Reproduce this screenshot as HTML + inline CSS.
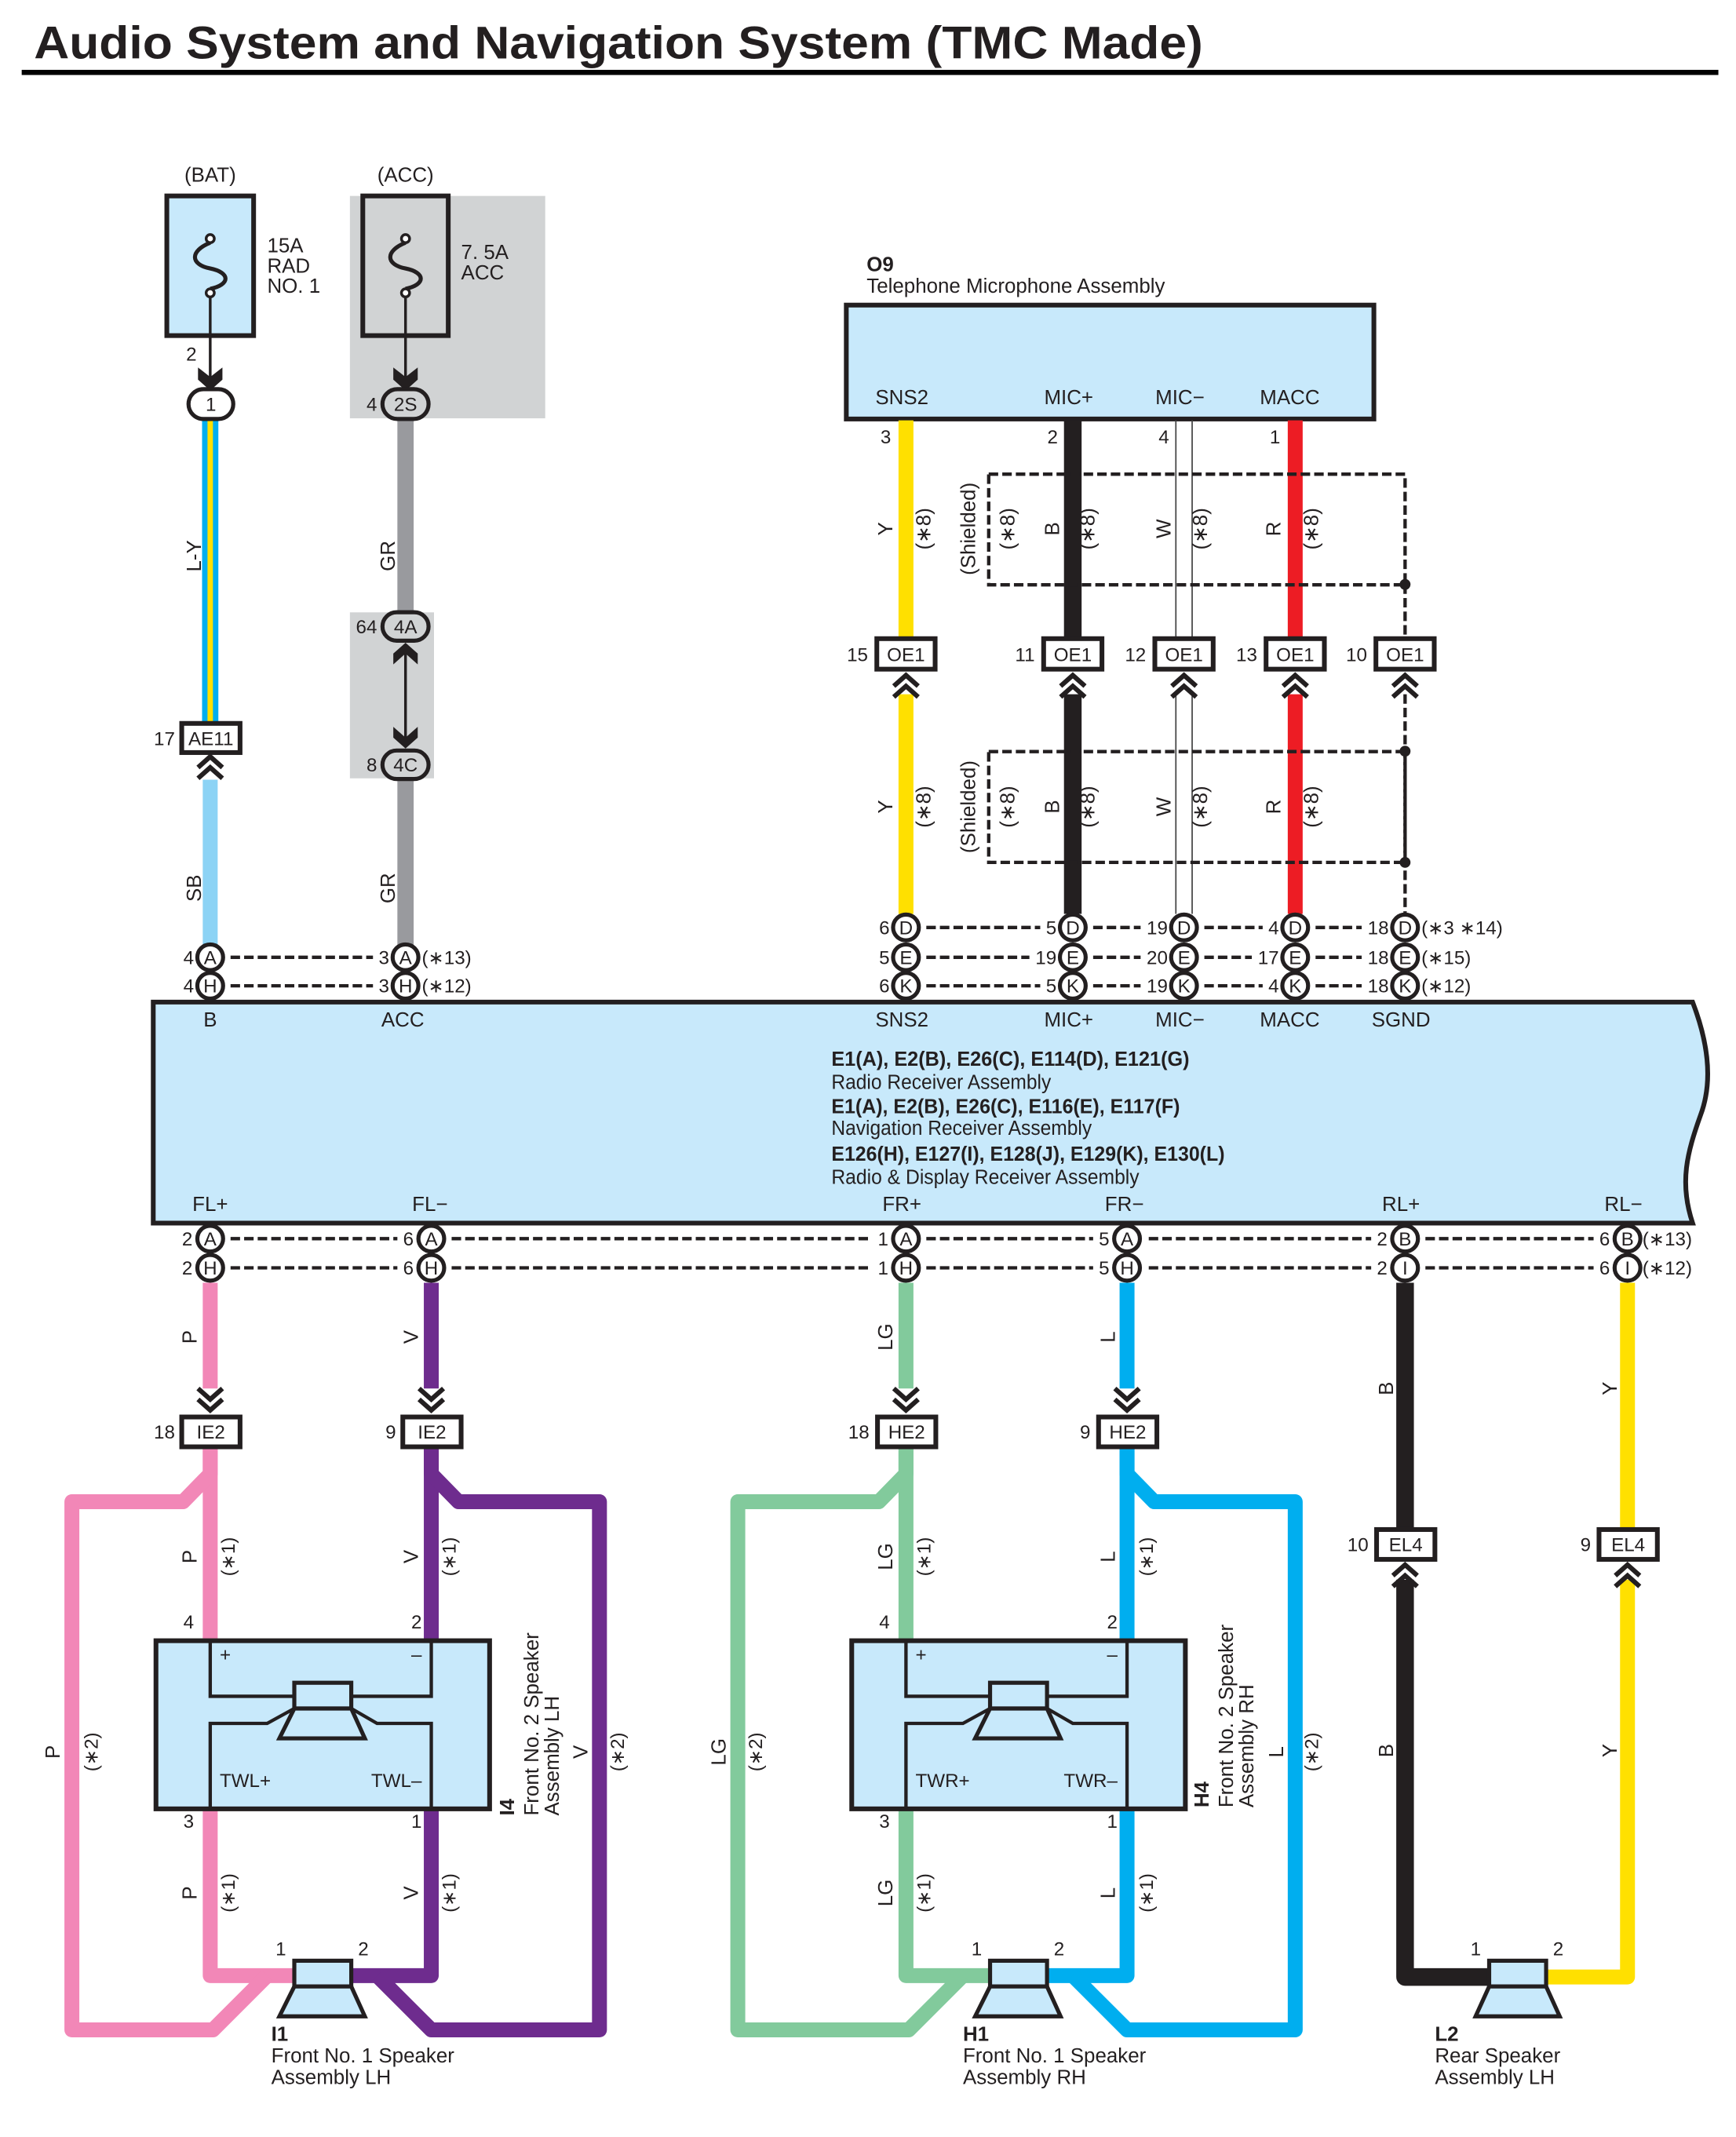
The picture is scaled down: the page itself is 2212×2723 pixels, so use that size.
<!DOCTYPE html>
<html><head><meta charset="utf-8"><style>
html,body{margin:0;padding:0;background:#fff}
svg{display:block}
text{font-family:"Liberation Sans Narrow","Liberation Sans",sans-serif;font-size:15px;fill:#231f20}
.n{font-size:14px}
.b{font-weight:bold}
.w{fill:none;stroke-linejoin:round}
.d{fill:none;stroke:#231f20;stroke-width:2.5;stroke-dasharray:7 3}
.c{fill:#fff;stroke:#231f20;stroke-width:3}
.k{fill:none;stroke:#231f20;stroke-width:3.5;stroke-linejoin:miter}
</style></head><body>
<svg width="2212" height="2723" viewBox="0 0 1280 1576" preserveAspectRatio="none" xmlns="http://www.w3.org/2000/svg">
<text x="25" y="43" class="b" style="font-size:34px" textLength="862" lengthAdjust="spacingAndGlyphs">Audio System and Navigation System (TMC Made)</text>
<rect x="16" y="51.5" width="1251" height="3.8" fill="#000"/>

<!-- BAT fuse -->
<text x="155" y="134" text-anchor="middle">(BAT)</text>
<rect x="123" y="144.5" width="64" height="103" fill="#c8e9fb" stroke="#231f20" stroke-width="3.5"/>
<path d="M155,179 C140,185 140,195 155,198 C170,201 170,210 155,213" fill="none" stroke="#231f20" stroke-width="3"/>
<circle cx="155" cy="176" r="3" fill="#fff" stroke="#231f20" stroke-width="2"/>
<circle cx="155" cy="216" r="3" fill="#fff" stroke="#231f20" stroke-width="2"/>
<line x1="155" y1="219" x2="155" y2="280" stroke="#231f20" stroke-width="2"/>
<polygon points="146,271 155,278 164,271 164,280 155,288 146,280" fill="#231f20"/>
<text x="145" y="266" class="n" text-anchor="end">2</text>
<text x="197" y="186">15A</text><text x="197" y="201">RAD</text><text x="197" y="216">NO. 1</text>

<!-- ACC fuse -->
<text x="299" y="134" text-anchor="middle">(ACC)</text>
<rect x="258" y="144.5" width="144" height="164" fill="#d1d3d4"/>
<rect x="267.5" y="144.5" width="63" height="103" fill="#d1d3d4" stroke="#231f20" stroke-width="3.5"/>
<path d="M299,179 C284,185 284,195 299,198 C314,201 314,210 299,213" fill="none" stroke="#231f20" stroke-width="3"/>
<circle cx="299" cy="176" r="3" fill="#fff" stroke="#231f20" stroke-width="2"/>
<circle cx="299" cy="216" r="3" fill="#fff" stroke="#231f20" stroke-width="2"/>
<line x1="299" y1="219" x2="299" y2="280" stroke="#231f20" stroke-width="2"/>
<polygon points="290,271 299,278 308,271 308,280 299,288 290,280" fill="#231f20"/>
<text x="340" y="191">7. 5A</text><text x="340" y="206">ACC</text>
<rect x="258" y="451.6" width="62" height="122.4" fill="#d1d3d4"/>

<!-- left wires -->
<line x1="155" y1="309" x2="155" y2="533" stroke="#00aeef" stroke-width="12"/>
<line x1="155" y1="309" x2="155" y2="533" stroke="#ffe000" stroke-width="4"/>
<line x1="155" y1="575" x2="155" y2="697" stroke="#8cd3f5" stroke-width="11"/>
<line x1="299" y1="309" x2="299" y2="452" stroke="#999a9e" stroke-width="12"/>
<line x1="299" y1="575" x2="299" y2="697" stroke="#999a9e" stroke-width="12"/>
<rect x="139" y="287" width="33" height="22" rx="11" class="c"/><text x="155.5" y="303" class="n" text-anchor="middle">1</text>
<rect x="282" y="287" width="34" height="22" rx="11" class="c" style="fill:#d1d3d4"/><text x="299" y="303" class="n" text-anchor="middle">2S</text>
<text x="278" y="303" class="n" text-anchor="end">4</text>
<rect x="282" y="451.5" width="34" height="21" rx="10.5" class="c" style="fill:#d1d3d4"/><text x="299" y="467" class="n" text-anchor="middle">4A</text>
<text x="278" y="467" class="n" text-anchor="end">64</text>
<rect x="282" y="553.5" width="34" height="21" rx="10.5" class="c" style="fill:#d1d3d4"/><text x="299" y="569" class="n" text-anchor="middle">4C</text>
<text x="278" y="569" class="n" text-anchor="end">8</text>
<line x1="299" y1="480" x2="299" y2="546" stroke="#231f20" stroke-width="2"/>
<polygon points="290,490 299,482 308,490 308,482 299,474 290,482" fill="#231f20"/>
<polygon points="290,536 299,544 308,536 308,544 299,552 290,544" fill="#231f20"/>
<rect x="134" y="533.5" width="43" height="21.5" class="c" style="stroke-width:3.5"/><text x="155.5" y="549.5" class="n" text-anchor="middle">AE11</text>
<text x="129" y="549.5" class="n" text-anchor="end">17</text>
<path d="M146,566 L155,558 L164,566 M146,574 L155,566 L164,574" class="k"/>
<text transform="translate(148,410) rotate(-90)" text-anchor="middle">L-Y</text>
<text transform="translate(148,655) rotate(-90)" text-anchor="middle">SB</text>
<text transform="translate(291,410) rotate(-90)" text-anchor="middle">GR</text>
<text transform="translate(291,655) rotate(-90)" text-anchor="middle">GR</text>

<!-- O9 -->
<text x="639" y="200" class="b">O9</text>
<text x="639" y="216">Telephone Microphone Assembly</text>
<rect x="624" y="225" width="389" height="84" fill="#c8e9fb" stroke="#231f20" stroke-width="3.5"/>
<text x="665" y="298" text-anchor="middle">SNS2</text><text x="788" y="298" text-anchor="middle">MIC+</text>
<text x="870" y="298" text-anchor="middle">MIC−</text><text x="951" y="298" text-anchor="middle">MACC</text>
<text x="657" y="327" class="n" text-anchor="end">3</text><text x="780" y="327" class="n" text-anchor="end">2</text>
<text x="862" y="327" class="n" text-anchor="end">4</text><text x="944" y="327" class="n" text-anchor="end">1</text>

<!-- top wires -->
<g>
<line x1="668" y1="310" x2="668" y2="471" stroke="#ffe000" stroke-width="11"/>
<line x1="668" y1="512" x2="668" y2="674" stroke="#ffe000" stroke-width="11"/>
<line x1="791" y1="310" x2="791" y2="471" stroke="#231f20" stroke-width="13"/>
<line x1="791" y1="512" x2="791" y2="674" stroke="#231f20" stroke-width="13"/>
<line x1="955" y1="310" x2="955" y2="471" stroke="#ed1c24" stroke-width="11"/>
<line x1="955" y1="512" x2="955" y2="674" stroke="#ed1c24" stroke-width="11"/>
<path d="M867,310 V471 M879,310 V471 M867,512 V674 M879,512 V674" stroke="#444" stroke-width="1" fill="none"/>
</g>
<rect x="729" y="349.7" width="307" height="81.6" class="d"/>
<rect x="729" y="554.3" width="307" height="81.7" class="d"/>
<path d="M1036,431 V471 M1036,512 V674" class="d"/>
<circle cx="1036" cy="431" r="4" fill="#231f20"/><circle cx="1036" cy="554" r="4" fill="#231f20"/><circle cx="1036" cy="636" r="4" fill="#231f20"/>
<g>
<text transform="translate(658,390) rotate(-90)" text-anchor="middle">Y</text>
<text transform="translate(686,390) rotate(-90)" text-anchor="middle">(∗8)</text>
<text transform="translate(719,390) rotate(-90)" text-anchor="middle">(Shielded)</text>
<text transform="translate(748,390) rotate(-90)" text-anchor="middle">(∗8)</text>
<text transform="translate(781,390) rotate(-90)" text-anchor="middle">B</text>
<text transform="translate(807,390) rotate(-90)" text-anchor="middle">(∗8)</text>
<text transform="translate(863,390) rotate(-90)" text-anchor="middle">W</text>
<text transform="translate(890,390) rotate(-90)" text-anchor="middle">(∗8)</text>
<text transform="translate(944,390) rotate(-90)" text-anchor="middle">R</text>
<text transform="translate(972,390) rotate(-90)" text-anchor="middle">(∗8)</text>
<text transform="translate(658,595) rotate(-90)" text-anchor="middle">Y</text>
<text transform="translate(686,595) rotate(-90)" text-anchor="middle">(∗8)</text>
<text transform="translate(719,595) rotate(-90)" text-anchor="middle">(Shielded)</text>
<text transform="translate(748,595) rotate(-90)" text-anchor="middle">(∗8)</text>
<text transform="translate(781,595) rotate(-90)" text-anchor="middle">B</text>
<text transform="translate(807,595) rotate(-90)" text-anchor="middle">(∗8)</text>
<text transform="translate(863,595) rotate(-90)" text-anchor="middle">W</text>
<text transform="translate(890,595) rotate(-90)" text-anchor="middle">(∗8)</text>
<text transform="translate(944,595) rotate(-90)" text-anchor="middle">R</text>
<text transform="translate(972,595) rotate(-90)" text-anchor="middle">(∗8)</text>
</g>
<!-- OE1 connectors -->
<g>
<rect x="646.5" y="471" width="43" height="22.5" class="c" style="stroke-width:3.5"/><text x="668" y="487.5" class="n" text-anchor="middle">OE1</text><text x="640" y="487.5" class="n" text-anchor="end">15</text>
<rect x="769.5" y="471" width="43" height="22.5" class="c" style="stroke-width:3.5"/><text x="791" y="487.5" class="n" text-anchor="middle">OE1</text><text x="763" y="487.5" class="n" text-anchor="end">11</text>
<rect x="851.5" y="471" width="43" height="22.5" class="c" style="stroke-width:3.5"/><text x="873" y="487.5" class="n" text-anchor="middle">OE1</text><text x="845" y="487.5" class="n" text-anchor="end">12</text>
<rect x="933.5" y="471" width="43" height="22.5" class="c" style="stroke-width:3.5"/><text x="955" y="487.5" class="n" text-anchor="middle">OE1</text><text x="927" y="487.5" class="n" text-anchor="end">13</text>
<rect x="1014.5" y="471" width="43" height="22.5" class="c" style="stroke-width:3.5"/><text x="1036" y="487.5" class="n" text-anchor="middle">OE1</text><text x="1008" y="487.5" class="n" text-anchor="end">10</text>
<path d="M659,506 L668,498 L677,506 M659,514 L668,506 L677,514" class="k"/>
<path d="M782,506 L791,498 L800,506 M782,514 L791,506 L800,514" class="k"/>
<path d="M864,506 L873,498 L882,506 M864,514 L873,506 L882,514" class="k"/>
<path d="M946,506 L955,498 L964,506 M946,514 L955,506 L964,514" class="k"/>
<path d="M1027,506 L1036,498 L1045,506 M1027,514 L1036,506 L1045,514" class="k"/>
</g>

<!-- main unit -->
<path d="M113,739 H1248 C1258,765 1264,795 1254,822 C1244,850 1238,872 1248,902 H113 Z" fill="#c8e9fb" stroke="#231f20" stroke-width="3.5"/>
<g text-anchor="middle">
<text x="155" y="757">B</text><text x="297" y="757">ACC</text><text x="665" y="757">SNS2</text><text x="788" y="757">MIC+</text>
<text x="870" y="757">MIC−</text><text x="951" y="757">MACC</text><text x="1033" y="757">SGND</text>
<text x="155" y="893">FL+</text><text x="317" y="893">FL−</text><text x="665" y="893">FR+</text><text x="829" y="893">FR−</text>
<text x="1033" y="893">RL+</text><text x="1197" y="893">RL−</text>
</g>
<text x="613" y="786" class="b" textLength="264" lengthAdjust="spacingAndGlyphs">E1(A), E2(B), E26(C), E114(D), E121(G)</text>
<text x="613" y="803" textLength="162" lengthAdjust="spacingAndGlyphs">Radio Receiver Assembly</text>
<text x="613" y="821" class="b" textLength="257" lengthAdjust="spacingAndGlyphs">E1(A), E2(B), E26(C), E116(E), E117(F)</text>
<text x="613" y="837" textLength="192" lengthAdjust="spacingAndGlyphs">Navigation Receiver Assembly</text>
<text x="613" y="856" class="b" textLength="290" lengthAdjust="spacingAndGlyphs">E126(H), E127(I), E128(J), E129(K), E130(L)</text>
<text x="613" y="873" textLength="227" lengthAdjust="spacingAndGlyphs">Radio &amp; Display Receiver Assembly</text>

<!-- top dashed rows -->
<path d="M683,684 H767 M806,684 H841 M888,684 H931 M970,684 H1004" class="d"/>
<path d="M683,706 H759 M806,706 H841 M888,706 H923 M970,706 H1004" class="d"/>
<path d="M683,727 H767 M806,727 H841 M888,727 H931 M970,727 H1004" class="d"/>
<path d="M170,706 H275 M170,727 H275" class="d"/>
<g text-anchor="end">
<text x="656" y="689" class="n">6</text><text x="656" y="711" class="n">5</text><text x="656" y="732" class="n">6</text>
<text x="779" y="689" class="n">5</text><text x="779" y="711" class="n">19</text><text x="779" y="732" class="n">5</text>
<text x="861" y="689" class="n">19</text><text x="861" y="711" class="n">20</text><text x="861" y="732" class="n">19</text>
<text x="943" y="689" class="n">4</text><text x="943" y="711" class="n">17</text><text x="943" y="732" class="n">4</text>
<text x="1024" y="689" class="n">18</text><text x="1024" y="711" class="n">18</text><text x="1024" y="732" class="n">18</text>
<text x="143" y="711" class="n">4</text><text x="143" y="732" class="n">4</text>
<text x="287" y="711" class="n">3</text><text x="287" y="732" class="n">3</text>
</g>
<g>
<circle cx="668" cy="684" r="9.5" class="c"/><circle cx="668" cy="706" r="9.5" class="c"/><circle cx="668" cy="727" r="9.5" class="c"/>
<circle cx="791" cy="684" r="9.5" class="c"/><circle cx="791" cy="706" r="9.5" class="c"/><circle cx="791" cy="727" r="9.5" class="c"/>
<circle cx="873" cy="684" r="9.5" class="c"/><circle cx="873" cy="706" r="9.5" class="c"/><circle cx="873" cy="727" r="9.5" class="c"/>
<circle cx="955" cy="684" r="9.5" class="c"/><circle cx="955" cy="706" r="9.5" class="c"/><circle cx="955" cy="727" r="9.5" class="c"/>
<circle cx="1036" cy="684" r="9.5" class="c"/><circle cx="1036" cy="706" r="9.5" class="c"/><circle cx="1036" cy="727" r="9.5" class="c"/>
<circle cx="155" cy="706" r="9.5" class="c"/><circle cx="155" cy="727" r="9.5" class="c"/>
<circle cx="299" cy="706" r="9.5" class="c"/><circle cx="299" cy="727" r="9.5" class="c"/>
</g>
<g text-anchor="middle">
<text x="668" y="689" class="n">D</text><text x="668" y="711" class="n">E</text><text x="668" y="732" class="n">K</text>
<text x="791" y="689" class="n">D</text><text x="791" y="711" class="n">E</text><text x="791" y="732" class="n">K</text>
<text x="873" y="689" class="n">D</text><text x="873" y="711" class="n">E</text><text x="873" y="732" class="n">K</text>
<text x="955" y="689" class="n">D</text><text x="955" y="711" class="n">E</text><text x="955" y="732" class="n">K</text>
<text x="1036" y="689" class="n">D</text><text x="1036" y="711" class="n">E</text><text x="1036" y="732" class="n">K</text>
<text x="155" y="711" class="n">A</text><text x="155" y="732" class="n">H</text>
<text x="299" y="711" class="n">A</text><text x="299" y="732" class="n">H</text>
</g>
<text x="1048" y="689" class="n">(∗3 ∗14)</text><text x="1048" y="711" class="n">(∗15)</text><text x="1048" y="732" class="n">(∗12)</text>
<text x="311" y="711" class="n">(∗13)</text><text x="311" y="732" class="n">(∗12)</text>

<!-- bottom wires -->
<g class="w" stroke-width="11">
<path d="M155,946 V1024" stroke="#f287b7"/>
<path d="M318,946 V1024" stroke="#6e2c8e"/>
<path d="M668,946 V1024" stroke="#82ca9c"/>
<path d="M831,946 V1024" stroke="#00aeef"/>
<path d="M1036,946 V1128" stroke="#231f20" stroke-width="13"/>
<path d="M1200,946 V1128" stroke="#ffe000"/>
<path d="M1036,1165 V1458 H1100" stroke="#231f20" stroke-width="13"/>
<path d="M1200,1165 V1458 H1138" stroke="#ffe000"/>
<path d="M155,1066 V1212 M155,1332 V1457 H219" stroke="#f287b7"/>
<path d="M155,1068 V1087 L135,1107.5 H53 V1497 H157 L197,1457" stroke="#f287b7"/>
<path d="M318,1066 V1212 M318,1332 V1457 H257" stroke="#6e2c8e"/>
<path d="M318,1068 V1087 L338,1107.5 H442 V1497 H318 L278,1457" stroke="#6e2c8e"/>
<path d="M668,1066 V1212 M668,1332 V1457 H732" stroke="#82ca9c"/>
<path d="M668,1068 V1087 L648,1107.5 H544 V1497 H670 L710,1457" stroke="#82ca9c"/>
<path d="M831,1066 V1212 M831,1332 V1457 H770" stroke="#00aeef"/>
<path d="M831,1068 V1087 L851,1107.5 H955 V1497 H831 L791,1457" stroke="#00aeef"/>
</g>
<!-- bottom dashed rows -->
<path d="M170,913.5 H293 M333,913.5 H643 M683,913.5 H806 M847,913.5 H1011 M1051,913.5 H1175" class="d"/>
<path d="M170,935 H293 M333,935 H643 M683,935 H806 M847,935 H1011 M1051,935 H1175" class="d"/>
<g>
<circle cx="155" cy="913.5" r="9.5" class="c"/><circle cx="155" cy="935" r="9.5" class="c"/>
<circle cx="318" cy="913.5" r="9.5" class="c"/><circle cx="318" cy="935" r="9.5" class="c"/>
<circle cx="668" cy="913.5" r="9.5" class="c"/><circle cx="668" cy="935" r="9.5" class="c"/>
<circle cx="831" cy="913.5" r="9.5" class="c"/><circle cx="831" cy="935" r="9.5" class="c"/>
<circle cx="1036" cy="913.5" r="9.5" class="c"/><circle cx="1036" cy="935" r="9.5" class="c"/>
<circle cx="1200" cy="913.5" r="9.5" class="c"/><circle cx="1200" cy="935" r="9.5" class="c"/>
</g>
<g text-anchor="middle">
<text x="155" y="918.5" class="n">A</text><text x="155" y="940" class="n">H</text>
<text x="318" y="918.5" class="n">A</text><text x="318" y="940" class="n">H</text>
<text x="668" y="918.5" class="n">A</text><text x="668" y="940" class="n">H</text>
<text x="831" y="918.5" class="n">A</text><text x="831" y="940" class="n">H</text>
<text x="1036" y="918.5" class="n">B</text><text x="1036" y="940" class="n">I</text>
<text x="1200" y="918.5" class="n">B</text><text x="1200" y="940" class="n">I</text>
</g>
<g text-anchor="end">
<text x="142" y="918.5" class="n">2</text><text x="142" y="940" class="n">2</text>
<text x="305" y="918.5" class="n">6</text><text x="305" y="940" class="n">6</text>
<text x="655" y="918.5" class="n">1</text><text x="655" y="940" class="n">1</text>
<text x="818" y="918.5" class="n">5</text><text x="818" y="940" class="n">5</text>
<text x="1023" y="918.5" class="n">2</text><text x="1023" y="940" class="n">2</text>
<text x="1187" y="918.5" class="n">6</text><text x="1187" y="940" class="n">6</text>
</g>
<text x="1211" y="918.5" class="n">(∗13)</text><text x="1211" y="940" class="n">(∗12)</text>

<!-- IE2/HE2/EL4 connectors -->
<path d="M146,1024 L155,1032 L164,1024 M146,1032 L155,1040 L164,1032" class="k"/>
<path d="M309,1024 L318,1032 L327,1024 M309,1032 L318,1040 L327,1032" class="k"/>
<path d="M659,1024 L668,1032 L677,1024 M659,1032 L668,1040 L677,1032" class="k"/>
<path d="M822,1024 L831,1032 L840,1024 M822,1032 L831,1040 L840,1032" class="k"/>
<rect x="134" y="1045" width="43" height="22" class="c" style="stroke-width:3.5"/><text x="155.5" y="1061" class="n" text-anchor="middle">IE2</text><text x="129" y="1061" class="n" text-anchor="end">18</text>
<rect x="297" y="1045" width="43" height="22" class="c" style="stroke-width:3.5"/><text x="318.5" y="1061" class="n" text-anchor="middle">IE2</text><text x="292" y="1061" class="n" text-anchor="end">9</text>
<rect x="647" y="1045" width="43" height="22" class="c" style="stroke-width:3.5"/><text x="668.5" y="1061" class="n" text-anchor="middle">HE2</text><text x="641" y="1061" class="n" text-anchor="end">18</text>
<rect x="810" y="1045" width="43" height="22" class="c" style="stroke-width:3.5"/><text x="831.5" y="1061" class="n" text-anchor="middle">HE2</text><text x="804" y="1061" class="n" text-anchor="end">9</text>
<rect x="1015" y="1128" width="43" height="22" class="c" style="stroke-width:3.5"/><text x="1036.5" y="1144" class="n" text-anchor="middle">EL4</text><text x="1009" y="1144" class="n" text-anchor="end">10</text>
<rect x="1179" y="1128" width="43" height="22" class="c" style="stroke-width:3.5"/><text x="1200.5" y="1144" class="n" text-anchor="middle">EL4</text><text x="1173" y="1144" class="n" text-anchor="end">9</text>
<path d="M1027,1162 L1036,1154 L1045,1162 M1027,1170 L1036,1162 L1045,1170" class="k"/>
<path d="M1191,1162 L1200,1154 L1209,1162 M1191,1170 L1200,1162 L1209,1170" class="k"/>

<!-- I4 speaker assembly -->
<g id="spk">
<rect x="115" y="1210" width="246" height="124" fill="#c8e9fb" stroke="#231f20" stroke-width="3.5"/>
<path d="M155,1210 V1251 H217 M318,1210 V1251 H259 M155,1334 V1271 H197 L217,1260 M318,1334 V1271 H278 L259,1260" fill="none" stroke="#231f20" stroke-width="2.5"/>
<rect x="217" y="1241" width="42" height="19" fill="#c8e9fb" stroke="#231f20" stroke-width="3"/>
<polygon points="217,1260 259,1260 269,1282 206,1282" fill="#c8e9fb" stroke="#231f20" stroke-width="3"/>
<rect x="217" y="1446" width="42" height="19" fill="#c8e9fb" stroke="#231f20" stroke-width="3"/>
<polygon points="217,1465 259,1465 269,1487 206,1487" fill="#c8e9fb" stroke="#231f20" stroke-width="3"/>
<text x="143" y="1201" class="n" text-anchor="end">4</text><text x="311" y="1201" class="n" text-anchor="end">2</text>
<text x="143" y="1348" class="n" text-anchor="end">3</text><text x="311" y="1348" class="n" text-anchor="end">1</text>
<text x="211" y="1442" class="n" text-anchor="end">1</text><text x="264" y="1442" class="n">2</text>
<text x="162" y="1225" class="n">+</text><text x="311" y="1225" class="n" text-anchor="end">–</text>
</g>
<text x="162" y="1318" class="n">TWL+</text><text x="311" y="1318" class="n" text-anchor="end">TWL–</text>
<use href="#spk" transform="translate(513,0)"/>
<text x="675" y="1318" class="n">TWR+</text><text x="824" y="1318" class="n" text-anchor="end">TWR–</text>

<!-- L2 rear speaker -->
<rect x="1098" y="1446" width="42" height="19" fill="#c8e9fb" stroke="#231f20" stroke-width="3"/>
<polygon points="1098,1465 1140,1465 1150,1487 1088,1487" fill="#c8e9fb" stroke="#231f20" stroke-width="3"/>
<text x="1092" y="1442" class="n" text-anchor="end">1</text><text x="1145" y="1442" class="n">2</text>

<!-- speaker labels -->
<text x="200" y="1505" class="b">I1</text><text x="200" y="1521">Front No. 1 Speaker</text><text x="200" y="1537">Assembly LH</text>
<text x="710" y="1505" class="b">H1</text><text x="710" y="1521">Front No. 1 Speaker</text><text x="710" y="1537">Assembly RH</text>
<text x="1058" y="1505" class="b">L2</text><text x="1058" y="1521">Rear Speaker</text><text x="1058" y="1537">Assembly LH</text>
<text transform="translate(379,1339) rotate(-90)" class="b">I4</text>
<text transform="translate(397,1339) rotate(-90)">Front No. 2 Speaker</text>
<text transform="translate(412,1339) rotate(-90)">Assembly LH</text>
<text transform="translate(891,1333) rotate(-90)" class="b">H4</text>
<text transform="translate(909,1333) rotate(-90)">Front No. 2 Speaker</text>
<text transform="translate(924,1333) rotate(-90)">Assembly RH</text>

<!-- bottom wire labels -->
<g text-anchor="middle">
<text transform="translate(145,986) rotate(-90)">P</text>
<text transform="translate(308,986) rotate(-90)">V</text>
<text transform="translate(658,986) rotate(-90)">LG</text>
<text transform="translate(822,986) rotate(-90)">L</text>
<text transform="translate(1027,1024) rotate(-90)">B</text>
<text transform="translate(1192,1024) rotate(-90)">Y</text>
<text transform="translate(145,1148) rotate(-90)">P</text><text transform="translate(173,1148) rotate(-90)" class="n">(∗1)</text>
<text transform="translate(308,1148) rotate(-90)">V</text><text transform="translate(336,1148) rotate(-90)" class="n">(∗1)</text>
<text transform="translate(658,1148) rotate(-90)">LG</text><text transform="translate(686,1148) rotate(-90)" class="n">(∗1)</text>
<text transform="translate(822,1148) rotate(-90)">L</text><text transform="translate(850,1148) rotate(-90)" class="n">(∗1)</text>
<text transform="translate(145,1396) rotate(-90)">P</text><text transform="translate(173,1396) rotate(-90)" class="n">(∗1)</text>
<text transform="translate(308,1396) rotate(-90)">V</text><text transform="translate(336,1396) rotate(-90)" class="n">(∗1)</text>
<text transform="translate(658,1396) rotate(-90)">LG</text><text transform="translate(686,1396) rotate(-90)" class="n">(∗1)</text>
<text transform="translate(822,1396) rotate(-90)">L</text><text transform="translate(850,1396) rotate(-90)" class="n">(∗1)</text>
<text transform="translate(44,1292) rotate(-90)">P</text><text transform="translate(72,1292) rotate(-90)" class="n">(∗2)</text>
<text transform="translate(433,1292) rotate(-90)">V</text><text transform="translate(460,1292) rotate(-90)" class="n">(∗2)</text>
<text transform="translate(535,1292) rotate(-90)">LG</text><text transform="translate(562,1292) rotate(-90)" class="n">(∗2)</text>
<text transform="translate(946,1292) rotate(-90)">L</text><text transform="translate(972,1292) rotate(-90)" class="n">(∗2)</text>
<text transform="translate(1027,1291) rotate(-90)">B</text>
<text transform="translate(1192,1291) rotate(-90)">Y</text>
</g>
</svg>
</body></html>
